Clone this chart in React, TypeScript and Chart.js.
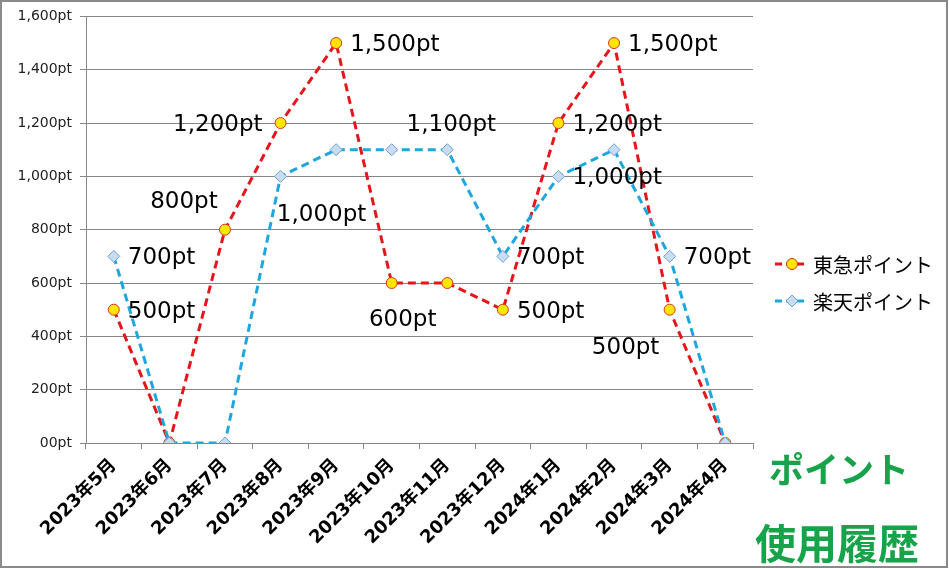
import React, { useEffect, useRef } from "react";
import { Chart, registerables } from "chart.js";

Chart.register(...registerables);

const categories = [
  "2023年5月", "2023年6月", "2023年7月", "2023年8月", "2023年9月", "2023年10月",
  "2023年11月", "2023年12月", "2024年1月", "2024年2月", "2024年3月", "2024年4月",
];
const tokyuValues = [500, 0, 800, 1200, 1500, 600, 600, 500, 1200, 1500, 500, 0];
const rakutenValues = [700, 0, 0, 1000, 1100, 1100, 1100, 700, 1000, 1100, 700, 0];
const yTickLabels = ["00pt", "200pt", "400pt", "600pt", "800pt", "1,000pt", "1,200pt", "1,400pt", "1,600pt"];
const seriesNames = ["東急ポイント", "楽天ポイント"];
const titleLines = ["ポイント", "使用履歴"];

// label placement per point (null = no label)
const tokyuLabelPlace = ["right", null, "aboveLeft", "left", "right", "below", null, "right", "right", "right", "belowLeft", null];
const rakutenLabelPlace = ["right", null, null, "belowRight", null, null, "above", "right", "right", null, "right", null];

const PLACE: Record<string, { align: CanvasTextAlign; dx: number; dy: number }> = {
  right: { align: "left", dx: 14, dy: 2 },
  left: { align: "right", dx: -18, dy: 2 },
  above: { align: "center", dx: 4, dy: -25 },
  below: { align: "center", dx: 11, dy: 37 },
  aboveLeft: { align: "center", dx: -41, dy: -28 },
  belowLeft: { align: "center", dx: -44, dy: 38 },
  belowRight: { align: "center", dx: 41, dy: 39 },
};

const RED = "#E5151C";
const BLUE = "#1EA6DE";
const GREEN = "#16A34A";

const fmt = (v: number) => v.toLocaleString("en-US") + "pt";

const overlayPlugin = {
  id: "overlay",
  beforeDraw(chart: any) {
    const ctx = chart.ctx;
    ctx.save();
    ctx.fillStyle = "#ffffff";
    ctx.fillRect(0, 0, chart.width, chart.height);
    ctx.restore();
  },
  afterDatasetsDraw(chart: any) {
    const ctx = chart.ctx;
    ctx.save();
    ctx.font = '23px "DejaVu Sans", sans-serif';
    ctx.fillStyle = "#000";
    ctx.textBaseline = "middle";
    const places = [tokyuLabelPlace, rakutenLabelPlace];
    chart.data.datasets.forEach((ds: any, di: number) => {
      const meta = chart.getDatasetMeta(di);
      meta.data.forEach((pt: any, i: number) => {
        const p = places[di][i];
        if (!p) return;
        const cfg = PLACE[p];
        ctx.textAlign = cfg.align;
        ctx.fillText(fmt(ds.data[i]), pt.x + cfg.dx, pt.y + cfg.dy);
      });
    });
    ctx.restore();
  },
  afterDraw(chart: any) {
    const ctx = chart.ctx;
    ctx.save();
    // legend
    const items = [
      { color: RED, style: "circle", fill: "#FFE600", border: "#D9381E", y: 264 },
      { color: BLUE, style: "diamond", fill: "#C9DDF2", border: "#6F9FD4", y: 301 },
    ];
    items.forEach((it, k) => {
      ctx.strokeStyle = it.color;
      ctx.lineWidth = 3;
      ctx.setLineDash([7, 4]);
      ctx.beginPath();
      ctx.moveTo(775, it.y);
      ctx.lineTo(808, it.y);
      ctx.stroke();
      ctx.setLineDash([]);
      ctx.fillStyle = it.fill;
      ctx.strokeStyle = it.border;
      ctx.lineWidth = 1;
      ctx.beginPath();
      if (it.style === "circle") {
        ctx.arc(792, it.y, 5.5, 0, Math.PI * 2);
      } else {
        ctx.moveTo(792, it.y - 6);
        ctx.lineTo(798, it.y);
        ctx.lineTo(792, it.y + 6);
        ctx.lineTo(786, it.y);
        ctx.closePath();
      }
      ctx.fill();
      ctx.stroke();
      ctx.fillStyle = "#000";
      ctx.font = '20px "Noto Sans CJK JP", sans-serif';
      ctx.textAlign = "left";
      ctx.textBaseline = "middle";
      ctx.fillText(seriesNames[k], 813, it.y + 1);
    });
    // green title
    ctx.fillStyle = GREEN;
    ctx.textAlign = "center";
    ctx.textBaseline = "middle";
    ctx.font = 'bold 35px "Noto Sans CJK JP", sans-serif';
    ctx.fillText(titleLines[0], 839, 470);
    ctx.font = 'bold 41px "Noto Sans CJK JP", sans-serif';
    ctx.fillText(titleLines[1], 837, 543);
    // outer border
    ctx.strokeStyle = "#8a8a8a";
    ctx.lineWidth = 2;
    ctx.strokeRect(1, 1, chart.width - 3, chart.height - 2);
    ctx.restore();
  },
};

export default function App() {
  const ref = useRef<HTMLCanvasElement | null>(null);
  useEffect(() => {
    document.body.style.margin = "0";
    const chart = new Chart(ref.current as HTMLCanvasElement, {
      type: "line",
      data: {
        labels: categories,
        datasets: [
          {
            label: seriesNames[0],
            data: tokyuValues,
            borderColor: RED,
            borderWidth: 3,
            borderDash: [8, 5],
            pointStyle: "circle",
            pointRadius: 5.5,
            pointBackgroundColor: "#FFE600",
            pointBorderColor: "#D9381E",
            pointBorderWidth: 1,
            tension: 0,
            order: 1,
          },
          {
            label: seriesNames[1],
            data: rakutenValues,
            borderColor: BLUE,
            borderWidth: 3,
            borderDash: [8, 5],
            pointStyle: "rectRot",
            pointRadius: 6,
            pointBackgroundColor: "#C9DDF2",
            pointBorderColor: "#6F9FD4",
            pointBorderWidth: 1,
            tension: 0,
            order: 0,
          },
        ],
      },
      options: {
        animation: false,
        responsive: false,
        maintainAspectRatio: false,
        layout: { padding: { top: 16, right: 196, left: 0, bottom: 0 } },
        plugins: {
          legend: { display: false },
          tooltip: { enabled: false },
        },
        scales: {
          x: {
            type: "category",
            offset: true,
            grid: {
              display: true,
              drawOnChartArea: false,
              drawTicks: true,
              tickLength: 6,
              offset: true,
              color: "#868686",
            },
            border: { display: true, color: "#868686", width: 1 },
            ticks: {
              autoSkip: false,
              minRotation: 45,
              maxRotation: 45,
              padding: 6,
              color: "#000",
              font: { family: '"DejaVu Sans", "Noto Sans CJK JP", sans-serif', size: 18, weight: "bold" },
            },
            afterFit: (s: any) => { s.height = 125; },
          },
          y: {
            min: 0,
            max: 1600,
            grid: { color: "#868686", lineWidth: 1, tickLength: 6 },
            border: { display: true, color: "#868686", width: 1 },
            ticks: {
              stepSize: 200,
              padding: 8,
              color: "#222",
              font: { family: '"DejaVu Sans", sans-serif', size: 14 },
              callback: (_v: any, i: number) => yTickLabels[i],
            },
            afterFit: (s: any) => { s.width = 86; },
          },
        },
      },
      plugins: [overlayPlugin],
    } as any);
    return () => chart.destroy();
  }, []);
  return (
    <div style={{ position: "absolute", left: 0, top: 0, width: 949, height: 568 }}>
      <canvas ref={ref} width={949} height={568} style={{ display: "block" }} />
    </div>
  );
}
